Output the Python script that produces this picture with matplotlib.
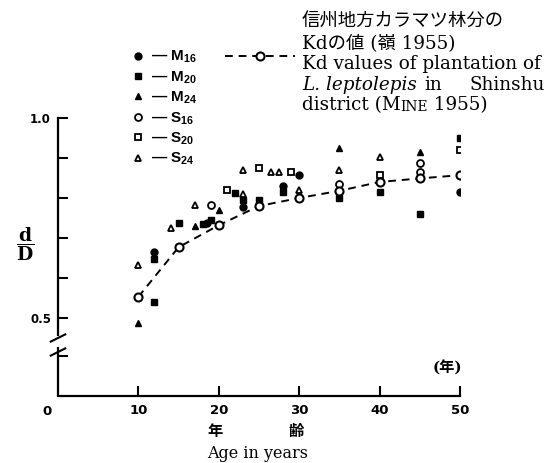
import matplotlib
matplotlib.use('Agg')
import matplotlib.pyplot as plt

plt.rcParams['mathtext.fontset'] = 'custom'
plt.rcParams['mathtext.rm'] = 'DejaVu Serif'
plt.rcParams['mathtext.it'] = 'DejaVu Serif:italic'
plt.rcParams['mathtext.bf'] = 'DejaVu Serif:bold'
plt.rcParams['mathtext.sf'] = 'Liberation Sans:bold'

# data (age in years, d/D)
m16_age = [12, 18.5, 23, 28, 30, 50]
m16_val = [0.665, 0.738, 0.778, 0.83, 0.857, 0.816]
m20_age = [12, 12, 15, 18, 19, 22, 23, 25, 28, 35, 40, 45, 50]
m20_val = [0.54, 0.648, 0.737, 0.735, 0.745, 0.812, 0.795, 0.795, 0.815, 0.80, 0.816, 0.759, 0.949]
m24_age = [10, 17, 20, 35, 45]
m24_val = [0.487, 0.73, 0.77, 0.924, 0.916]
s16_age = [19, 35, 45, 45]
s16_val = [0.782, 0.835, 0.887, 0.866]
s20_age = [21, 25, 29, 40, 50]
s20_val = [0.82, 0.874, 0.866, 0.857, 0.92]
s24_age = [10, 14, 17, 23, 23, 26.5, 27.5, 30, 35, 40]
s24_val = [0.632, 0.724, 0.782, 0.81, 0.87, 0.865, 0.865, 0.82, 0.87, 0.903]
kd_age = [10, 15, 20, 25, 30, 35, 40, 45, 50]
kd_val = [0.553, 0.677, 0.732, 0.78, 0.80, 0.818, 0.84, 0.849, 0.857]

series_labels = ['M', 'M', 'M', 'S', 'S', 'S']
series_subs = ['16', '20', '24', '16', '20', '24']

W, H = 547, 463
fig = plt.figure(figsize=(W / 100, H / 100), dpi=100)
ax = fig.add_axes([58 / W, 1 - 396 / H, 402 / W, 278 / H])

ymin = 0.305
ax.set_xlim(0, 50)
ax.set_ylim(ymin, 1.0)

ms = 5.0
handles = []
handles += ax.plot(m16_age, m16_val, 'o', color='k', ms=ms)
handles += ax.plot(m20_age, m20_val, 's', color='k', ms=ms - 0.4)
handles += ax.plot(m24_age, m24_val, '^', color='k', ms=ms)
handles += ax.plot(s16_age, s16_val, 'o', mfc='white', mec='k', mew=1.3, ms=ms)
handles += ax.plot(s20_age, s20_val, 's', mfc='white', mec='k', mew=1.3, ms=ms - 0.4)
handles += ax.plot(s24_age, s24_val, '^', mfc='white', mec='k', mew=1.3, ms=ms)
kd_line, = ax.plot(kd_age, kd_val, color='k', lw=1.4, ls=(0, (4, 3)),
                   marker='o', mfc='white', mec='k', mew=1.5, ms=5.8, zorder=3)

# spines / ticks
for s in ['top', 'right']:
    ax.spines[s].set_visible(False)
ax.spines['left'].set_linewidth(1.6)
ax.spines['bottom'].set_linewidth(1.6)
ax.spines['left'].set_bounds(0.4575, 1.0)

ax.set_xticks([10, 20, 30, 40, 50])
ax.set_xticklabels(['10', '20', '30', '40', '50'])
ax.set_yticks([0.405, 0.5, 0.6, 0.7, 0.8, 0.9, 1.0])
ax.set_yticklabels(['', '0.5', '', '', '', '', '1.0'])
ax.tick_params(direction='in', length=7.5, width=1.5)
ax.tick_params(axis='x', pad=6, labelsize=9.5)
ax.tick_params(axis='y', pad=5, labelsize=8.5)
for lab in ax.get_xticklabels() + ax.get_yticklabels():
    lab.set_fontweight('bold')
    lab.set_family('DejaVu Sans')

# axis break
ax.plot([0, 0], [ymin, 0.4275], color='k', lw=1.6, clip_on=False, solid_capstyle='butt')
for yb in [0.45, 0.415]:
    ax.plot([-0.9, 0.9], [yb - 0.009, yb + 0.009], color='k', lw=1.5, clip_on=False)

ax.annotate('0', xy=(0, ymin), xytext=(-8, -11), textcoords='offset points',
            ha='center', va='center', fontsize=9.5, fontweight='bold', family='DejaVu Sans')

# y label d/D
fig.text(25 / W, 1 - 244 / H, r'$\dfrac{\mathbf{d}}{\mathbf{D}}$', fontsize=13.5,
         ha='center', va='center')

# x labels
jp = ['DejaVu Serif', 'Noto Sans CJK JP']
fig.text(215 / W, 1 - 432 / H, '年', fontsize=11, fontweight='bold', family=jp,
         ha='center', va='center')
fig.text(296 / W, 1 - 432 / H, '齢', fontsize=11, fontweight='bold', family=jp,
         ha='center', va='center')
fig.text(258 / W, 1 - 453 / H, 'Age in years', fontsize=11.5, family='DejaVu Serif',
         ha='center', va='center')
fig.text(447 / W, 1 - 368 / H, '(年)', fontsize=11, fontweight='bold', family=jp,
         ha='center', va='center')

# legend for the six series
labels = ['— %s$_{\\mathsf{%s}}$' % (a, b) for a, b in zip(series_labels, series_subs)]
fig.legend(handles, labels, loc='upper left', bbox_to_anchor=(134 / W, 1 - 49 / H),
           frameon=False, borderpad=0, borderaxespad=0, handlelength=0.5,
           handletextpad=0.6, labelspacing=0.26,
           prop={'family': 'Liberation Sans', 'weight': 'bold', 'size': 11})

# Kd legend line
fig.legend([kd_line], [''], loc='center left', bbox_to_anchor=(225 / W, 1 - 57 / H),
           frameon=False, borderpad=0, borderaxespad=0, handlelength=4.6,
           handletextpad=0, fontsize=11)

# annotation text
x0 = 302 / W
fs = 13.2
fig.text(x0, 1 - 22 / H, '信州地方カラマツ林分の', fontsize=fs, family=jp, va='center')
fig.text(x0, 1 - 43 / H, 'Kdの値 (嶺 1955)', fontsize=fs, family=jp, va='center')
fig.text(x0, 1 - 64 / H, 'Kd values of plantation of', fontsize=fs, family='DejaVu Serif',
         va='center')
fig.text(x0, 1 - 85 / H, 'L. leptolepis', fontsize=fs, family='DejaVu Serif',
         style='italic', va='center')
fig.text(424 / W, 1 - 85 / H, 'in', fontsize=fs, family='DejaVu Serif', va='center')
fig.text(545 / W, 1 - 85 / H, 'Shinshu', fontsize=fs, family='DejaVu Serif', va='center',
         ha='right')
t1 = fig.text(x0, 1 - 114 / H, 'district (M', fontsize=fs, family='DejaVu Serif',
              va='bottom')
ann2 = ax.annotate('INE', xy=(1, 0), xycoords=t1, fontsize=fs * 0.75,
                   family='DejaVu Serif', va='bottom', annotation_clip=False)
ax.annotate(' 1955)', xy=(1, 0), xycoords=ann2, fontsize=fs, family='DejaVu Serif',
            va='bottom', annotation_clip=False)

fig.savefig('out.png', dpi=100)
